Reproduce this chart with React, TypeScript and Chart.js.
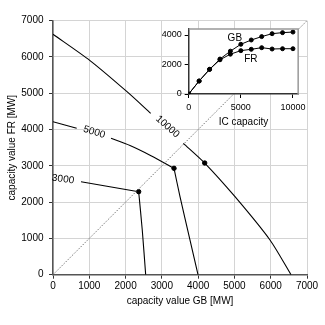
import React, { useEffect, useRef } from 'react';
import { Chart, registerables } from 'chart.js';

Chart.register(...registerables);
Chart.defaults.font.family = '"Liberation Sans", Arial, Helvetica, sans-serif';
Chart.defaults.color = '#000';

// ---- main chart data (capacity value GB vs FR, contour per IC capacity) ----
const c3000aX = [772, 2361];
const c3000aY = [2563, 2288];
const c3000bX = [2361, 2460, 2554];
const c3000bY = [2288, 1232, 0];
const c5000aX = [0, 653];
const c5000aY = [4217, 4034];
const c5000bX = [1599, 2122, 2700, 3335];
const c5000bY = [3759, 3560, 3280, 2932];
const c5000cX = [3335, 3500, 3776, 3996];
const c5000cY = [2932, 2150, 956, 0];
const c10000aX = [0, 1020, 2031, 2692];
const c10000aY = [6625, 5900, 5050, 4448];
const c10000bX = [3592, 4181, 5016, 5980, 6559];
const c10000bY = [3621, 3078, 2150, 956, 0];
const kinkX = [2361, 3335, 4181];
const kinkY = [2288, 2932, 3078];
const diagX = [0, 7000];
const diagY = [0, 7000];
const contourLabels = ['3000', '5000', '10000'];
const contourLabelX = [276, 1135, 3156];
const contourLabelY = [2629, 3927, 4079];
const contourLabelAngle = [8, 17, 42];

// ---- inset data ----
const icCapacity = [0, 1000, 2000, 3000, 4000, 5000, 6000, 7000, 8000, 9000, 10000];
const gbValue = [0, 880, 1670, 2370, 2905, 3370, 3660, 3890, 4090, 4160, 4200];
const frValue = [0, 880, 1670, 2320, 2700, 2940, 3030, 3140, 3050, 3070, 3070];
const insetXTicks = [0, 5000, 10000];
const insetYTicks = [0, 2000, 4000];
const seriesLabels = ['GB', 'FR'];
const seriesLabelX = [4426, 5956];
const seriesLabelY = [3776, 2353];

const pts = (xs: number[], ys: number[]) => xs.map((x, i) => ({ x, y: ys[i] }));

const lineDs = (xs: number[], ys: number[]) => ({
  data: pts(xs, ys),
  showLine: true,
  borderColor: '#000',
  borderWidth: 1.1,
  pointRadius: 0,
  fill: false,
  tension: 0.25,
});

const plainTick = (v: any) => String(v);

const contourLabelPlugin = {
  id: 'contourLabels',
  afterDatasetsDraw(chart: any) {
    const { ctx, scales } = chart;
    ctx.save();
    ctx.font = '10px "Liberation Sans", Arial, sans-serif';
    ctx.fillStyle = '#000';
    ctx.textAlign = 'center';
    ctx.textBaseline = 'middle';
    contourLabels.forEach((t, i) => {
      const px = scales.x.getPixelForValue(contourLabelX[i]);
      const py = scales.y.getPixelForValue(contourLabelY[i]);
      ctx.save();
      ctx.translate(px, py);
      ctx.rotate((contourLabelAngle[i] * Math.PI) / 180);
      ctx.fillText(t, 0, 0);
      ctx.restore();
    });
    ctx.restore();
  },
};

const insetPlugin = {
  id: 'insetDeco',
  beforeDraw(chart: any) {
    const { ctx, chartArea } = chart;
    ctx.save();
    ctx.fillStyle = '#fff';
    ctx.fillRect(chartArea.left, chartArea.top, chartArea.right - chartArea.left, chartArea.bottom - chartArea.top);
    ctx.restore();
  },
  afterDraw(chart: any) {
    const { ctx, chartArea, scales } = chart;
    ctx.save();
    ctx.strokeStyle = '#999';
    ctx.lineWidth = 1.5;
    ctx.beginPath();
    ctx.moveTo(chartArea.left, chartArea.top);
    ctx.lineTo(chartArea.right, chartArea.top);
    ctx.lineTo(chartArea.right, chartArea.bottom);
    ctx.stroke();
    ctx.font = '10px "Liberation Sans", Arial, sans-serif';
    ctx.fillStyle = '#000';
    ctx.textAlign = 'center';
    ctx.textBaseline = 'middle';
    seriesLabels.forEach((t, i) => {
      ctx.fillText(t, scales.x.getPixelForValue(seriesLabelX[i]), scales.y.getPixelForValue(seriesLabelY[i]));
    });
    ctx.restore();
  },
};

export default function App() {
  const mainRef = useRef<HTMLCanvasElement>(null);
  const insetRef = useRef<HTMLCanvasElement>(null);

  useEffect(() => {
    const main = new Chart(mainRef.current as HTMLCanvasElement, {
      type: 'scatter',
      data: {
        datasets: [
          {
            data: pts(diagX, diagY),
            showLine: true,
            borderColor: '#555',
            borderWidth: 0.8,
            borderDash: [1.5, 1.5],
            pointRadius: 0,
          },
          lineDs(c3000aX, c3000aY),
          lineDs(c3000bX, c3000bY),
          lineDs(c5000aX, c5000aY),
          lineDs(c5000bX, c5000bY),
          lineDs(c5000cX, c5000cY),
          lineDs(c10000aX, c10000aY),
          lineDs(c10000bX, c10000bY),
          {
            data: pts(kinkX, kinkY),
            showLine: false,
            pointRadius: 2.2,
            pointBackgroundColor: '#000',
            pointBorderColor: '#000',
          },
        ] as any,
      },
      options: {
        responsive: false,
        animation: false,
        devicePixelRatio: 1,
        layout: { padding: { left: 2, top: 20.7, right: 18, bottom: 13.5 } },
        plugins: { legend: { display: false }, tooltip: { enabled: false } },
        scales: {
          x: {
            type: 'linear',
            min: 0,
            max: 7000,
            ticks: { stepSize: 1000, padding: 2, font: { size: 10 }, color: '#000', maxRotation: 0, callback: plainTick },
            grid: { color: '#d4d4d4', tickLength: 4, tickColor: '#333' },
            border: { color: '#555', width: 1.5 },
            title: { display: true, text: 'capacity value GB [MW]', font: { size: 10 }, color: '#000' },
            afterFit: (s: any) => {
              s.height = 36.8;
            },
          },
          y: {
            type: 'linear',
            min: 0,
            max: 7000,
            ticks: { stepSize: 1000, padding: 5.5, font: { size: 10 }, color: '#000', callback: plainTick },
            grid: { color: '#d4d4d4', tickLength: 4, tickColor: '#333' },
            border: { color: '#555', width: 1.5 },
            title: { display: true, text: 'capacity value FR [MW]', font: { size: 10 }, color: '#000' },
            afterFit: (s: any) => {
              s.width = 51;
            },
          },
        },
      } as any,
      plugins: [contourLabelPlugin],
    });

    const inset = new Chart(insetRef.current as HTMLCanvasElement, {
      type: 'line',
      data: {
        datasets: [
          {
            data: pts(icCapacity, gbValue),
            borderColor: '#000',
            borderWidth: 1,
            pointRadius: 2,
            pointBackgroundColor: '#000',
            pointBorderColor: '#000',
            tension: 0,
          },
          {
            data: pts(icCapacity, frValue),
            borderColor: '#000',
            borderWidth: 1,
            pointRadius: 2,
            pointBackgroundColor: '#000',
            pointBorderColor: '#000',
            tension: 0,
          },
        ] as any,
      },
      options: {
        responsive: false,
        animation: false,
        devicePixelRatio: 1,
        layout: { padding: { left: 0, top: 9.1, right: 11.1, bottom: 0 } },
        plugins: { legend: { display: false }, tooltip: { enabled: false } },
        scales: {
          x: {
            type: 'linear',
            min: 0,
            max: 10500,
            afterBuildTicks: (s: any) => {
              s.ticks = insetXTicks.map((v) => ({ value: v }));
            },
            ticks: { padding: 4, font: { size: 9 }, color: '#000', maxRotation: 0, callback: plainTick },
            grid: { drawOnChartArea: false, tickLength: 4, tickColor: '#000' },
            border: { color: '#333', width: 1.5 },
            title: { display: true, text: 'IC capacity', font: { size: 10 }, color: '#000' },
            afterFit: (s: any) => {
              s.height = 38;
            },
          },
          y: {
            type: 'linear',
            min: 0,
            max: 4400,
            afterBuildTicks: (s: any) => {
              s.ticks = insetYTicks.map((v) => ({ value: v }));
            },
            ticks: { padding: 3, font: { size: 9 }, color: '#000', callback: plainTick },
            grid: { drawOnChartArea: false, tickLength: 4, tickColor: '#000' },
            border: { color: '#333', width: 1.5 },
            afterFit: (s: any) => {
              s.width = 38.7;
            },
          },
        },
      } as any,
      plugins: [insetPlugin],
    });

    return () => {
      main.destroy();
      inset.destroy();
    };
  }, []);

  return (
    <div style={{ position: 'fixed', left: 0, top: 0, width: 325, height: 325, background: '#fff' }}>
      <canvas ref={mainRef} width={325} height={325} style={{ position: 'absolute', left: 0, top: 0 }} />
      <canvas
        ref={insetRef}
        width={160}
        height={112}
        style={{ position: 'absolute', left: 150, top: 20, width: 160, height: 112 }}
      />
    </div>
  );
}
